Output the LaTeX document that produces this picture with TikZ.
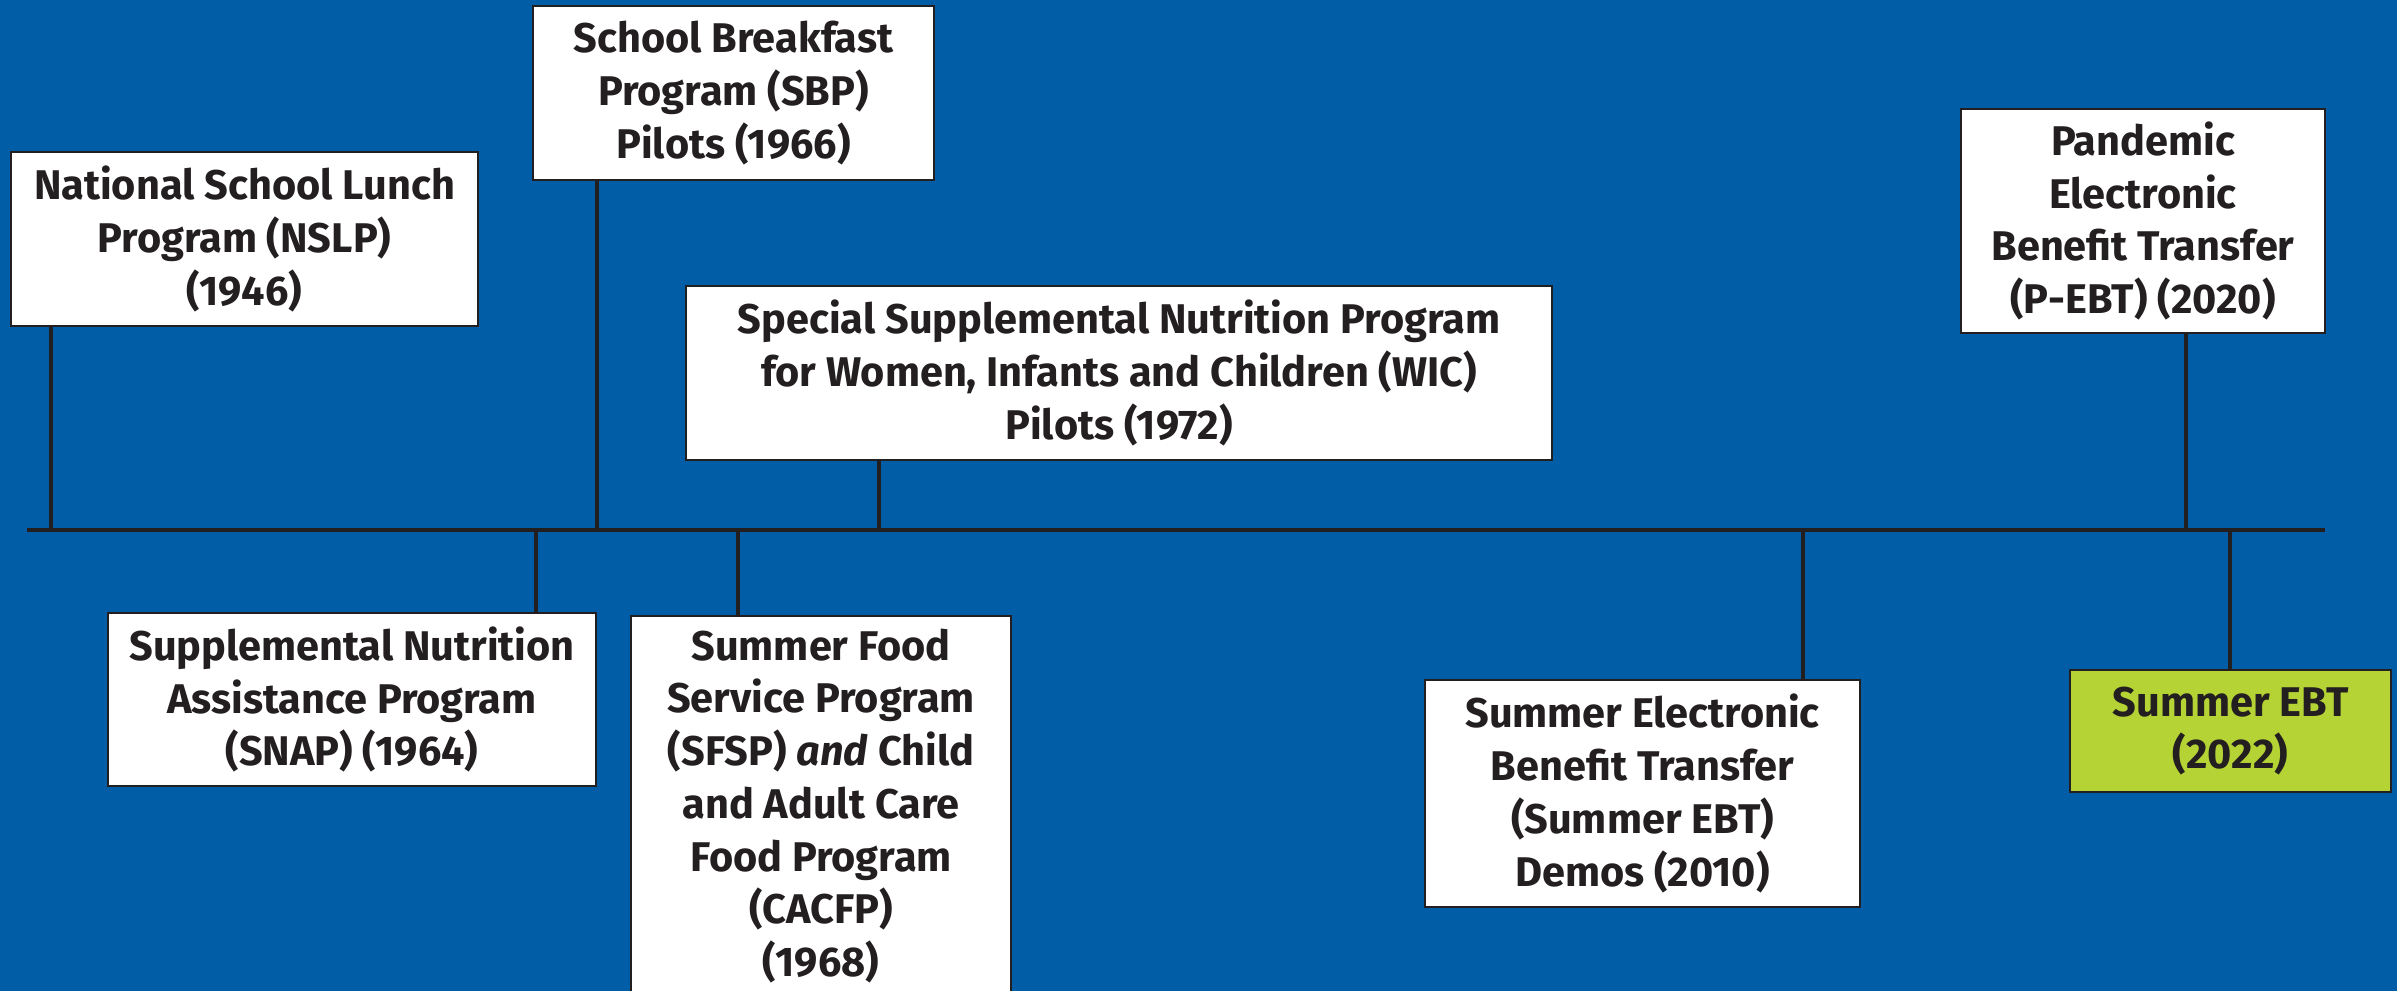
\documentclass[tikz,border=0pt]{standalone}
\usepackage{fontspec}
\setmainfont{Fira Sans}
\usetikzlibrary{positioning}
\definecolor{bgblue}{HTML}{005DA6}
\definecolor{ebtgreen}{HTML}{B5D334}
\definecolor{ink}{HTML}{231F20}
\tikzset{
  box/.style={rectangle, draw=ink, line width=0.6pt, fill=white, text=ink, align=center, inner sep=0pt, font=\bfseries\fontsize{11.8}{15}\selectfont},
  axis/.style={draw=ink, line width=1.4pt},
  stem/.style={draw=ink, line width=1.3pt}
}

\begin{document}
\begin{tikzpicture}[x=0.01cm, y=-0.01cm]
  % Background
  \fill[bgblue] (0,0) rectangle (2397,991);
  \useasboundingbox (0,0) rectangle (2397,991);

  % Milestones above the line
  \node[box, minimum width=4.67cm, minimum height=1.74cm] (nslp) at (244.5,239) {National School Lunch\\Program (NSLP)\\(1946)};
  \node[box, minimum width=4.01cm, minimum height=1.74cm] (sbp) at (733.5,93) {School Breakfast\\Program (SBP)\\Pilots (1966)};
  \node[box, minimum width=8.66cm, minimum height=1.74cm] (wic) at (1119,373) {Special Supplemental Nutrition Program\\for Women, Infants and Children (WIC)\\Pilots (1972)};
  \node[box, minimum width=3.64cm, minimum height=2.24cm] (pebt) at (2143,221) {Pandemic\\Electronic\\Benefit Transfer\\(P-EBT) (2020)};

  % Milestones below the line
  \node[box, minimum width=4.88cm, minimum height=1.73cm] (snap) at (352,699.5) {Supplemental Nutrition\\Assistance Program\\(SNAP) (1964)};
  \node[box, minimum width=3.80cm, minimum height=3.80cm] (sfsp) at (821,806) {Summer Food\\Service Program\\(SFSP) \textit{and} Child\\and Adult Care\\Food Program\\(CACFP)\\(1968)};
  \node[box, minimum width=4.35cm, minimum height=2.27cm] (demo) at (1642.5,793.5) {Summer Electronic\\Benefit Transfer\\(Summer EBT)\\Demos (2010)};
  \node[box, fill=ebtgreen, minimum width=3.21cm, minimum height=1.22cm] (sebt) at (2230.5,731) {Summer EBT\\(2022)};

  % Timeline
  \coordinate (start) at (27,530);
  \coordinate (end) at (2325,530);
  \draw[axis] (start) -- (end);

  \foreach \n/\x in {nslp/51, sbp/597, wic/879, pebt/2186} {
    \coordinate (t-\n) at (\x,530);
    \draw[stem] (t-\n) -- (t-\n |- \n.south);
  }
  \foreach \n/\x in {snap/536, sfsp/738, demo/1803, sebt/2230} {
    \coordinate (t-\n) at (\x,530);
    \draw[stem] (t-\n) -- (t-\n |- \n.north);
  }
\end{tikzpicture}
\end{document}
